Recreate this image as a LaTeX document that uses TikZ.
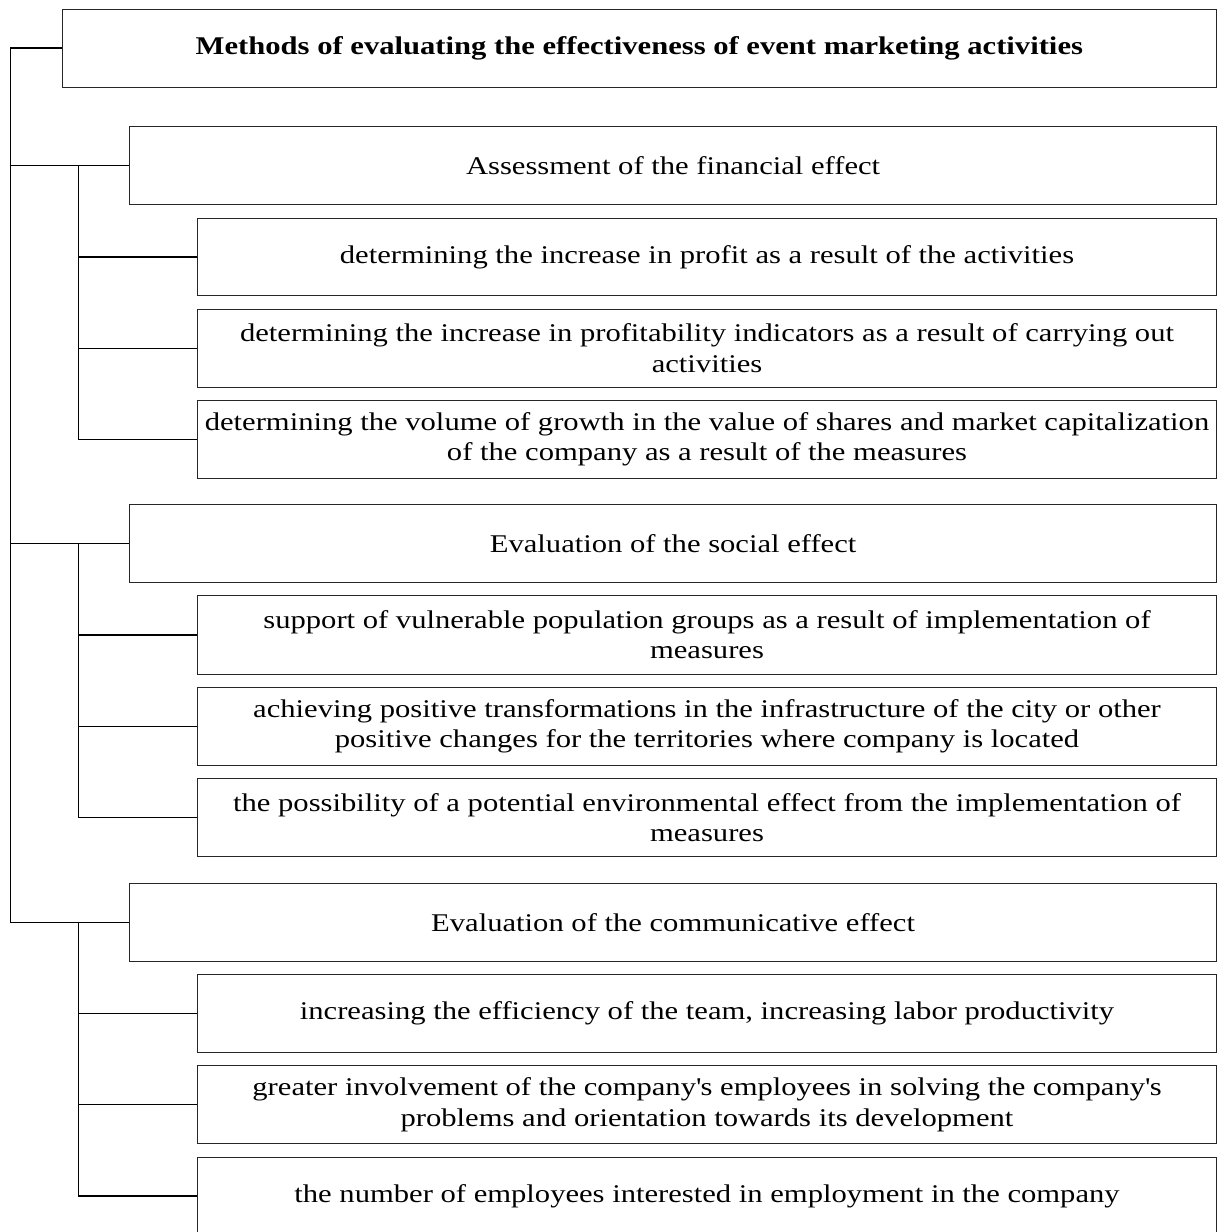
\documentclass[tikz,border=0pt]{standalone}
\usepackage{fontspec}
\setmainfont{Liberation Serif}[FakeStretch=1.2]
\begin{document}
\begin{tikzpicture}[x=1pt,y=-1pt,
  box/.style={draw=black!85, line width=0.9pt, rectangle, inner sep=0pt, align=center,
    font=\fontsize{25.5}{30.5}\selectfont},
  link/.style={draw=black, line width=1.3pt},
]
\useasboundingbox (0,0) rectangle (1227,1232);
\begin{scope}
\clip (0,0) rectangle (1227,1232);
% title
\node[box, minimum width=1154.7pt, minimum height=78pt, font=\fontsize{25.5}{30.5}\selectfont\bfseries] (T) at (639.35,48) {Methods of evaluating the effectiveness of event marketing activities};
% level 1 boxes
\node[box, minimum width=1087.2pt, minimum height=77.5pt] (B1) at (673.1,165.25) {Assessment of the financial effect};
\node[box, minimum width=1087.2pt, minimum height=78pt] (B2) at (673.1,543.7) {Evaluation of the social effect};
\node[box, minimum width=1087.2pt, minimum height=78.3pt] (B3) at (673.1,922.15) {Evaluation of the communicative effect};
% sub boxes
\node[box, minimum width=1019.4pt, minimum height=77.7pt] (F1) at (707,256.85) {determining the increase in profit as a result of the activities};
\node[box, minimum width=1019.4pt, minimum height=77.7pt] (F2) at (707,348.15) {determining the increase in profitability indicators as a result of carrying out\\activities};
\node[box, minimum width=1019.4pt, minimum height=77.6pt] (F3) at (707,439.5) {determining the volume of growth in the value of shares and market capitalization\\of the company as a result of the measures};
\node[box, minimum width=1019.4pt, minimum height=78.3pt] (S1) at (707,634.85) {support of vulnerable population groups as a result of implementation of\\measures};
\node[box, minimum width=1019.4pt, minimum height=77.7pt] (S2) at (707,726.15) {achieving positive transformations in the infrastructure of the city or other\\positive changes for the territories where company is located};
\node[box, minimum width=1019.4pt, minimum height=78.4pt] (S3) at (707,817.5) {the possibility of a potential environmental effect from the implementation of\\measures};
\node[box, minimum width=1019.4pt, minimum height=77.6pt] (C1) at (707,1013.5) {increasing the efficiency of the team, increasing labor productivity};
\node[box, minimum width=1019.4pt, minimum height=78.4pt] (C2) at (707,1104.5) {greater involvement of the company\textquotesingle s employees in solving the company\textquotesingle s\\problems and orientation towards its development};
\node[box, minimum width=1019.4pt, minimum height=78pt] (C3) at (707,1196) {the number of employees interested in employment in the company};
% trunk
\coordinate (t0) at (10.5,48);
\coordinate (t1) at (10.5,165.25);
\coordinate (t2) at (10.5,543.7);
\coordinate (t3) at (10.5,922.15);
\draw[link] (T.west) -- (t0) -- (t3) -- (B3.west);
\draw[link] (t1) -- (B1.west);
\draw[link] (t2) -- (B2.west);
% sub trunks
\foreach \g/\a/\b/\c in {B1/F1/F2/F3, B2/S1/S2/S3, B3/C1/C2/C3}{
  \coordinate (s\g) at (78.3,0);
  \draw[link] (\g.west -| s\g) -- (\c.west -| s\g) -- (\c.west);
  \draw[link] (\a.west -| s\g) -- (\a.west);
  \draw[link] (\b.west -| s\g) -- (\b.west);
}
\end{scope}
\end{tikzpicture}
\end{document}
